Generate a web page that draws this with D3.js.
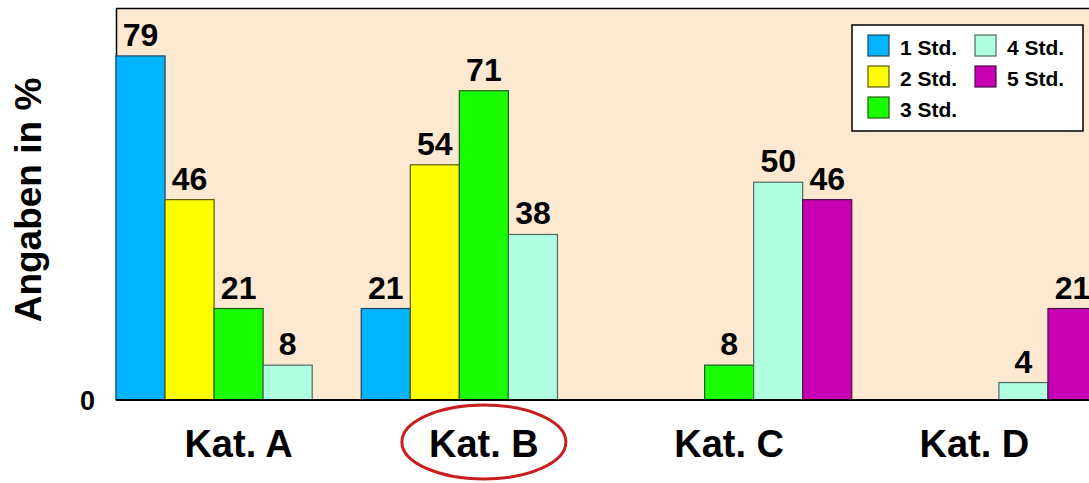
<!DOCTYPE html>
<html>
<head>
<meta charset="utf-8">
<script src="https://cdn.jsdelivr.net/npm/d3@7"></script>
<style>
  body { margin: 0; background: #fff; }
  text { font-family: Arial, "Liberation Sans", sans-serif; font-weight: bold; }
</style>
</head>
<body>
<div id="chart"></div>
<script>
// categories and series
var categories = ["Kat. A", "Kat. B", "Kat. C", "Kat. D"];
var seriesNames = ["1 Std.", "2 Std.", "3 Std.", "4 Std.", "5 Std."];
var seriesColors = ["#00b4ff", "#ffff00", "#1aff00", "#b0ffe0", "#c800b4"];
var seriesStrokes = ["#23435a", "#5a5a10", "#1f5a12", "#4d6a5f", "#4a1044"];
// values per series, one per category (null = no bar)
var std1 = [79, 21, null, null];
var std2 = [46, 54, null, null];
var std3 = [21, 71, 8, null];
var std4 = [8, 38, 50, 4];
var std5 = [null, null, 46, 21];
var seriesValues = [std1, std2, std3, std4, std5];
var yTicks = [0];

var svgWidth = 1089, svgHeight = 483;
var margin = { top: 8, bottom: 83, left: 116, right: -8 };
var width = svgWidth - margin.left - margin.right;
var height = svgHeight - margin.top - margin.bottom;

var svg = d3.select("#chart").append("svg")
  .attr("width", svgWidth)
  .attr("height", svgHeight);

var chartGroup = svg.append("g")
  .attr("transform", `translate(${margin.left}, ${margin.top})`);

// scales
var x0 = d3.scaleBand().domain(categories).range([0, width]).padding(0);
var x1 = d3.scaleBand().domain(seriesNames).range([0, x0.bandwidth()]).padding(0);
var y = d3.scaleLinear().domain([0, 90]).range([height, 0]);

// plot background
chartGroup.append("rect")
  .attr("x", 0).attr("y", 0)
  .attr("width", width).attr("height", height)
  .attr("fill", "#fde8d2");
chartGroup.append("path")
  .attr("d", `M${width},0.5H0.5V${height}`)
  .attr("fill", "none").attr("stroke", "#000").attr("stroke-width", 1.5);

// flatten data
var bars = [];
categories.forEach(function(c, ci) {
  seriesNames.forEach(function(s, si) {
    var v = seriesValues[si][ci];
    if (v != null) bars.push({ cat: c, series: s, si: si, value: v });
  });
});

chartGroup.selectAll("rect.bar")
  .data(bars)
  .enter()
  .append("rect")
  .attr("class", "bar")
  .attr("x", d => x0(d.cat) + x1(d.series))
  .attr("y", d => y(d.value))
  .attr("width", x1.bandwidth())
  .attr("height", d => height - y(d.value))
  .attr("fill", d => seriesColors[d.si])
  .attr("stroke", d => seriesStrokes[d.si])
  .attr("stroke-width", 1.2);

chartGroup.selectAll("text.val")
  .data(bars)
  .enter()
  .append("text")
  .attr("class", "val")
  .attr("x", d => x0(d.cat) + x1(d.series) + x1.bandwidth() / 2)
  .attr("y", d => y(d.value) - 10)
  .attr("text-anchor", "middle")
  .style("font-size", "32px")
  .attr("fill", "#000")
  .text(d => d.value);

// x axis line
chartGroup.append("line")
  .attr("x1", 0).attr("x2", width)
  .attr("y1", height).attr("y2", height)
  .attr("stroke", "#000").attr("stroke-width", 2);

// x axis labels
chartGroup.selectAll("text.cat")
  .data(categories)
  .enter()
  .append("text")
  .attr("class", "cat")
  .attr("x", d => x0(d) + x0.bandwidth() / 2)
  .attr("y", height + 57)
  .attr("text-anchor", "middle")
  .style("font-size", "38px")
  .text(d => d);

// y ticks
chartGroup.selectAll("text.ytick")
  .data(yTicks)
  .enter()
  .append("text")
  .attr("class", "ytick")
  .attr("x", -21)
  .attr("y", d => y(d) + 10)
  .attr("text-anchor", "end")
  .style("font-size", "27px")
  .text(d => d);

// y label
svg.append("text")
  .attr("transform", "translate(41, 200) rotate(-90)")
  .attr("text-anchor", "middle")
  .style("font-size", "37px")
  .text("Angaben in %");

// highlight ellipse around Kat. B
svg.append("ellipse")
  .attr("cx", margin.left + x0("Kat. B") + x0.bandwidth() / 2)
  .attr("cy", 442)
  .attr("rx", 82)
  .attr("ry", 37)
  .attr("fill", "none")
  .attr("stroke", "#c81e1e")
  .attr("stroke-width", 3);

// legend
var legend = svg.append("g").attr("transform", "translate(852, 25)");
legend.append("rect")
  .attr("width", 231).attr("height", 106)
  .attr("fill", "#fff").attr("stroke", "#000").attr("stroke-width", 1.5);
seriesNames.forEach(function(s, i) {
  var col = i < 3 ? 0 : 1;
  var row = i < 3 ? i : i - 3;
  var g = legend.append("g")
    .attr("transform", `translate(${16 + col * 107}, ${10 + row * 31})`);
  g.append("rect")
    .attr("width", 21).attr("height", 21)
    .attr("fill", seriesColors[i])
    .attr("stroke", seriesStrokes[i]).attr("stroke-width", 1.2);
  g.append("text")
    .attr("x", 32).attr("y", 20)
    .style("font-size", "21px")
    .text(s);
});
</script>
</body>
</html>
